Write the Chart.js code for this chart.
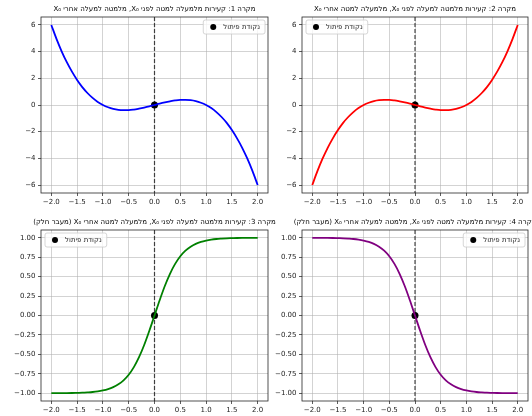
<!DOCTYPE html>
<html>
<head>
<meta charset="utf-8">
<script src="https://cdn.jsdelivr.net/npm/chart.js@4.4.0/dist/chart.umd.min.js"></script>
<style>
  html, body { margin: 0; padding: 0; background: #fff; }
  #fig { position: relative; width: 532px; height: 416px; overflow: hidden; }
  #fig canvas { position: absolute; }
</style>
</head>
<body>
<div id="fig">
  <canvas id="c1" width="290" height="212" style="left:0;top:0"></canvas>
  <canvas id="c2" width="270" height="212" style="left:262px;top:0"></canvas>
  <canvas id="c3" width="290" height="203" style="left:0;top:213px"></canvas>
  <canvas id="c4" width="270" height="203" style="left:262px;top:213px"></canvas>
</div>
<script>
// x positions of the sampled curve points
const xs = [-2.0, -1.9, -1.8, -1.7, -1.6, -1.5, -1.4, -1.3, -1.2, -1.1, -1.0,
            -0.9, -0.8, -0.7, -0.6, -0.5, -0.4, -0.3, -0.2, -0.1, 0.0,
             0.1, 0.2, 0.3, 0.4, 0.5, 0.6, 0.7, 0.8, 0.9, 1.0,
             1.1, 1.2, 1.3, 1.4, 1.5, 1.6, 1.7, 1.8, 1.9, 2.0];

// case 1 (blue)
const case1Y = [6.00, 4.96, 4.03, 3.21, 2.50, 1.88, 1.34, 0.90, 0.53, 0.23, 0.00,
                -0.17, -0.29, -0.36, -0.38, -0.38, -0.34, -0.27, -0.19, -0.10, 0.00,
                0.10, 0.19, 0.27, 0.34, 0.38, 0.38, 0.36, 0.29, 0.17, 0.00,
                -0.23, -0.53, -0.90, -1.34, -1.88, -2.50, -3.21, -4.03, -4.96, -6.00];
// case 2 (red)
const case2Y = [-6.00, -4.96, -4.03, -3.21, -2.50, -1.88, -1.34, -0.90, -0.53, -0.23, 0.00,
                0.17, 0.29, 0.36, 0.38, 0.38, 0.34, 0.27, 0.19, 0.10, 0.00,
                -0.10, -0.19, -0.27, -0.34, -0.38, -0.38, -0.36, -0.29, -0.17, 0.00,
                0.23, 0.53, 0.90, 1.34, 1.88, 2.50, 3.21, 4.03, 4.96, 6.00];
// case 3 (green)
const case3Y = [-0.999, -0.999, -0.998, -0.998, -0.997, -0.995, -0.993, -0.989, -0.984, -0.976, -0.964,
                -0.947, -0.922, -0.885, -0.834, -0.762, -0.664, -0.537, -0.380, -0.197, 0.000,
                0.197, 0.380, 0.537, 0.664, 0.762, 0.834, 0.885, 0.922, 0.947, 0.964,
                0.976, 0.984, 0.989, 0.993, 0.995, 0.997, 0.998, 0.998, 0.999, 0.999];
// case 4 (purple)
const case4Y = [0.999, 0.999, 0.998, 0.998, 0.997, 0.995, 0.993, 0.989, 0.984, 0.976, 0.964,
                0.947, 0.922, 0.885, 0.834, 0.762, 0.664, 0.537, 0.380, 0.197, 0.000,
                -0.197, -0.380, -0.537, -0.664, -0.762, -0.834, -0.885, -0.922, -0.947, -0.964,
                -0.976, -0.984, -0.989, -0.993, -0.995, -0.997, -0.998, -0.998, -0.999, -0.999];

const inflection = { x: 0, y: 0 };

const xTicks = [-2, -1.5, -1, -0.5, 0, 0.5, 1, 1.5, 2];
const yTicksCubic = [-6, -4, -2, 0, 2, 4, 6];
const yTicksSmooth = [-1, -0.75, -0.5, -0.25, 0, 0.25, 0.5, 0.75, 1];

const titles = [
  'מקרה 1: קעירות מלמעלה למטה לפני X₀, מלמטה למעלה אחרי X₀',
  'מקרה 2: קעירות מלמטה למעלה לפני X₀, מלמעלה למטה אחרי X₀',
  'מקרה 3: קעירות מלמטה למעלה לפני X₀, מלמעלה למטה אחרי X₀ (מעבר חלק)',
  'מקרה 4: קעירות מלמעלה למטה לפני X₀, מלמטה למעלה אחרי X₀ (מעבר חלק)'
];
const legendLabel = 'נקודת פיתול';

const FONT = 'DejaVu Sans';
const gridColor = 'rgba(176,176,176,0.7)';

function minus(s) { return s.replace('-', '\u2212'); }

// dashed x0 line, axes frame, title and the legend box inside the plot
const decorPlugin = {
  id: 'decor',
  beforeDatasetsDraw(chart) {
    const ctx = chart.ctx, a = chart.chartArea;
    const px = chart.scales.x.getPixelForValue(inflection.x);
    ctx.save();
    ctx.strokeStyle = 'rgba(0,0,0,0.7)';
    ctx.lineWidth = 1.2;
    ctx.setLineDash([4, 2]);
    ctx.beginPath();
    ctx.moveTo(px, a.top);
    ctx.lineTo(px, a.bottom);
    ctx.stroke();
    ctx.restore();
  },
  afterDraw(chart, args, opts) {
    const ctx = chart.ctx, a = chart.chartArea;
    ctx.save();
    ctx.strokeStyle = '#262626';
    ctx.lineWidth = 0.8;
    ctx.strokeRect(a.left, a.top, a.right - a.left, a.bottom - a.top);

    // title, not squeezed into the axes width
    ctx.font = '7px "' + FONT + '"';
    ctx.fillStyle = '#000';
    ctx.textAlign = 'center';
    ctx.textBaseline = 'middle';
    ctx.fillText('\u202B' + opts.title + '\u202C', (a.left + a.right) / 2, a.top - 7.5);

    // legend
    const tw = ctx.measureText(legendLabel).width;
    const w = tw + 25, h = 14;
    const bx = opts.side === 'right' ? a.right - 3 - w : a.left + 4;
    const by = a.top + 3;
    ctx.beginPath();
    ctx.roundRect(bx, by, w, h, 2);
    ctx.fillStyle = 'rgba(255,255,255,0.8)';
    ctx.fill();
    ctx.strokeStyle = '#cccccc';
    ctx.lineWidth = 0.8;
    ctx.stroke();
    ctx.fillStyle = '#000';
    ctx.beginPath();
    ctx.arc(bx + 10, by + h / 2, 3, 0, Math.PI * 2);
    ctx.fill();
    ctx.fillStyle = '#222';
    ctx.textAlign = 'left';
    ctx.fillText(legendLabel, bx + 20, by + h / 2 + 0.5);
    ctx.restore();
  }
};

function makeChart(id, ys, color, title, yTicks, yLim, yFmt, side, box) {
  const pts = xs.map((x, i) => ({ x: x, y: ys[i] }));
  new Chart(document.getElementById(id), {
    type: 'line',
    data: {
      datasets: [{
        data: pts,
        borderColor: color,
        borderWidth: 1.8,
        pointRadius: 0,
        fill: false,
        cubicInterpolationMode: 'monotone'
      }, {
        data: [inflection],
        showLine: false,
        pointRadius: 3.5,
        pointBackgroundColor: '#000',
        pointBorderColor: '#000',
        pointBorderWidth: 0
      }]
    },
    plugins: [decorPlugin],
    options: {
      responsive: false,
      animation: false,
      layout: { padding: { left: 0, right: box.padRight, top: 17, bottom: 0 } },
      scales: {
        x: {
          type: 'linear',
          min: -2.2,
          max: 2.2,
          afterBuildTicks: s => { s.ticks = xTicks.map(v => ({ value: v })); },
          afterFit: s => { s.height = box.xH; s.paddingLeft = 0; s.paddingRight = 0; },
          border: { display: false },
          grid: { color: gridColor, lineWidth: 0.8, tickLength: 3, tickColor: '#333' },
          ticks: {
            callback: v => minus(v.toFixed(1)),
            font: { family: FONT, size: 7 },
            color: '#222',
            padding: 2,
            maxRotation: 0,
            autoSkip: false
          }
        },
        y: {
          type: 'linear',
          min: -yLim,
          max: yLim,
          afterBuildTicks: s => { s.ticks = yTicks.map(v => ({ value: v })); },
          afterFit: s => { s.width = box.yW; s.paddingTop = 0; s.paddingBottom = 0; },
          border: { display: false },
          grid: { color: gridColor, lineWidth: 0.8, tickLength: 3, tickColor: '#333' },
          ticks: {
            callback: v => minus(yFmt(v)),
            font: { family: FONT, size: 7 },
            color: '#222',
            padding: 2.5,
            autoSkip: false
          }
        }
      },
      plugins: {
        legend: { display: false },
        tooltip: { enabled: false },
        title: { display: false },
        decor: { side: side, title: title }
      }
    }
  });
}

const intFmt = v => v.toFixed(0);
const twoFmt = v => v.toFixed(2);

makeChart('c1', case1Y, '#0000ff', titles[0], yTicksCubic, 6.6, intFmt, 'right', { yW: 41, padRight: 22, xH: 19 });
makeChart('c2', case2Y, '#ff0000', titles[1], yTicksCubic, 6.6, intFmt, 'left', { yW: 40, padRight: 4, xH: 19 });
makeChart('c3', case3Y, '#008000', titles[2], yTicksSmooth, 1.1, twoFmt, 'left', { yW: 41, padRight: 22, xH: 15 });
makeChart('c4', case4Y, '#800080', titles[3], yTicksSmooth, 1.1, twoFmt, 'right', { yW: 40, padRight: 4, xH: 15 });
</script>
</body>
</html>
